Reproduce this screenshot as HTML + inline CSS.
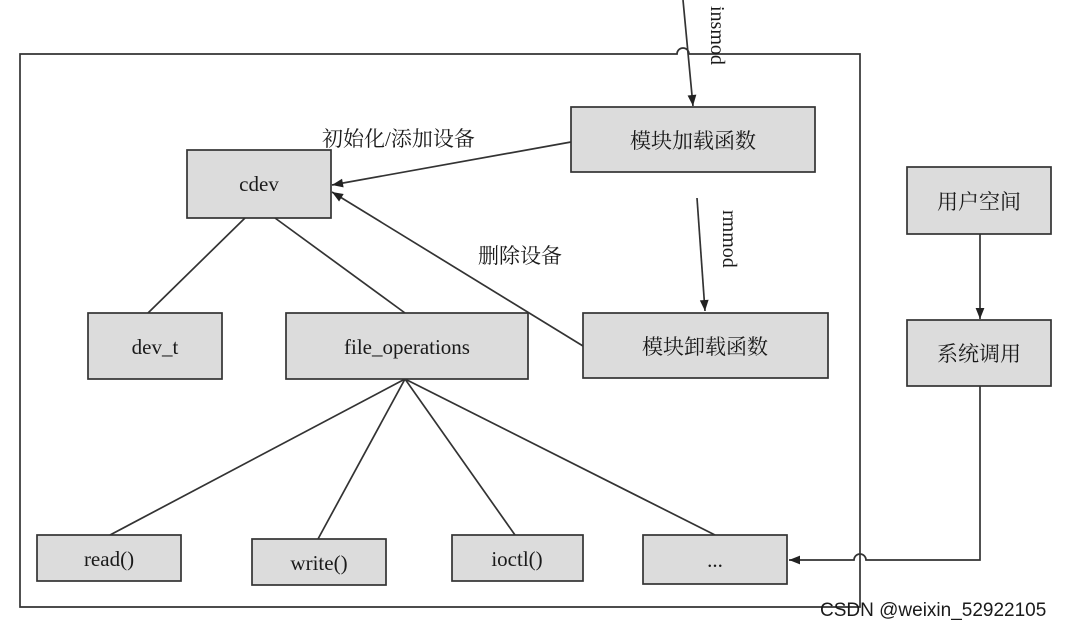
<!DOCTYPE html>
<html><head><meta charset="utf-8"><style>
body{margin:0;background:#fff;}
svg text{font-family:"Liberation Serif","Noto Serif CJK SC",serif;fill:#1a1a1a;}
</style></head><body>
<svg width="1071" height="627" viewBox="0 0 1071 627" xmlns="http://www.w3.org/2000/svg">
<defs>
<marker id="b" viewBox="0 0 10 10" refX="10" refY="5" markerWidth="16" markerHeight="11" orient="auto" markerUnits="userSpaceOnUse"><path d="M0,1 L10,5 L0,9 z" fill="#222"/></marker></defs>
<g stroke="#333" stroke-width="1.7" fill="none">
<path d="M20,54 L677,54 A6,6 0 0 1 689,54 L860,54 L860,607 L20,607 Z"/>
<line x1="683" y1="0" x2="693" y2="106" marker-end="url(#b)"/>
<line x1="697" y1="198" x2="705" y2="311" marker-end="url(#b)"/>
<line x1="571" y1="142" x2="332" y2="185" marker-end="url(#b)"/>
<line x1="583" y1="346" x2="332" y2="192" marker-end="url(#b)"/>
<line x1="245" y1="218" x2="148" y2="313"/>
<line x1="275" y1="218" x2="405" y2="313"/>
<line x1="405" y1="379" x2="110" y2="535"/>
<line x1="405" y1="379" x2="318" y2="539"/>
<line x1="405" y1="379" x2="515" y2="535"/>
<line x1="405" y1="379" x2="715" y2="535"/>
<line x1="980" y1="234" x2="980" y2="319" marker-end="url(#b)"/>
<path d="M980,386 L980,560 L866,560 A6,6 0 0 0 854,560 L789,560" marker-end="url(#b)"/>
</g>
<g stroke="#333" stroke-width="1.7" fill="#dcdcdc">
<rect x="571" y="107" width="244" height="65"/>
<rect x="187" y="150" width="144" height="68"/>
<rect x="907" y="167" width="144" height="67"/>
<rect x="907" y="320" width="144" height="66"/>
<rect x="88" y="313" width="134" height="66"/>
<rect x="286" y="313" width="242" height="66"/>
<rect x="583" y="313" width="245" height="65"/>
<rect x="37" y="535" width="144" height="46"/>
<rect x="252" y="539" width="134" height="46"/>
<rect x="452" y="535" width="131" height="46"/>
<rect x="643" y="535" width="144" height="49"/>
</g>
<g font-size="21" text-anchor="middle">
<text x="693" y="148">模块加载函数</text>
<text x="259" y="191">cdev</text>
<text x="979" y="209">用户空间</text>
<text x="979" y="361">系统调用</text>
<text x="155" y="354">dev_t</text>
<text x="407" y="354">file_operations</text>
<text x="705" y="354">模块卸载函数</text>
<text x="109" y="566">read()</text>
<text x="319" y="570">write()</text>
<text x="517" y="566">ioctl()</text>
<text x="715" y="567">...</text>
</g>
<text x="322" y="146" font-size="21">初始化/添加设备</text>
<text x="478" y="263" font-size="21">删除设备</text>
<text font-size="20" transform="translate(711,6) rotate(90)">insmod</text>
<text font-size="20" transform="translate(723,210) rotate(90)">rmmod</text>
<text x="820" y="616" font-size="19" style="font-family:'Liberation Sans',sans-serif" fill="#444">CSDN @weixin_52922105</text>
</svg>
</body></html>
